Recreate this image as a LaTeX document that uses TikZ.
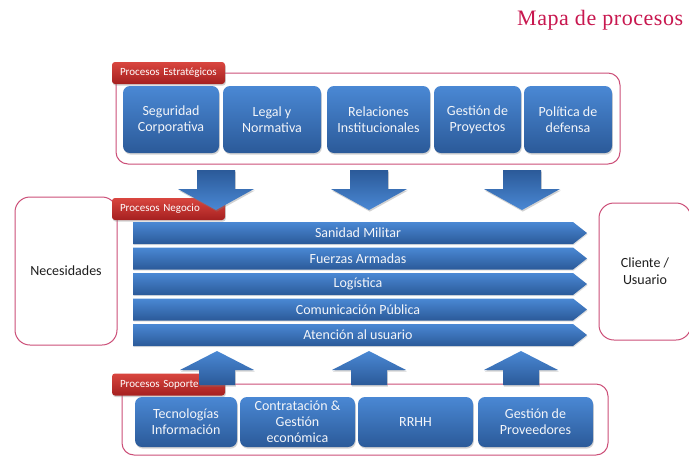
\documentclass[tikz,border=0pt]{standalone}
\usepackage{fontspec}
\setmainfont{Carlito}
\newfontfamily\titlefont[LetterSpace=2.5]{Liberation Serif}
\usetikzlibrary{shadows}
\definecolor{bluetop}{HTML}{4A88D4}
\definecolor{bluebot}{HTML}{2B5A99}
\definecolor{redtop}{HTML}{D9463F}
\definecolor{redbot}{HTML}{A52020}
\definecolor{pinkline}{HTML}{CC4F78}
\definecolor{titlered}{HTML}{C8174F}
\definecolor{txtwhite}{HTML}{F3F5F9}
\definecolor{txtdark}{HTML}{1E1E1E}
\tikzset{
  shad/.style={drop shadow={opacity=0.35,shadow xshift=0.8pt,shadow yshift=-1.6pt}},
  lightshad/.style={drop shadow={opacity=0.25,shadow xshift=0.6pt,shadow yshift=-1.2pt}},
  procbox/.style={shad, rounded corners=7pt, top color=bluetop, bottom color=bluebot,
    text=txtwhite, align=center, font=\fontsize{14}{16}\selectfont, inner sep=0pt},
  tabbox/.style={shad, rounded corners=3pt, top color=redtop, bottom color=redbot,
    text=white, font=\fontsize{11}{12}\selectfont, inner xsep=8pt, inner ysep=0pt,
    text width=97pt, align=left, minimum height=22pt},
  groupbox/.style={draw=pinkline, line width=1pt, rounded corners=12pt, fill=white},
  sidebox/.style={draw=pinkline, line width=1pt, rounded corners=15pt, fill=white,
    text=txtdark, align=center, font=\fontsize{14}{17}\selectfont},
  barshape/.style={lightshad, top color=bluetop, bottom color=bluebot},
  bartext/.style={text=txtwhite, font=\fontsize{14}{15}\selectfont, inner sep=0pt},
  downarrow/.style={shad, top color=bluebot, bottom color=bluetop},
  uparrow/.style={shad, top color=bluetop, bottom color=bluebot},
}
\begin{document}
\begin{tikzpicture}[x=1pt,y=-1pt]
\useasboundingbox[fill=white] (0,0) rectangle (689,456);

% title
\node[anchor=base west, inner sep=0pt, text=titlered, font=\titlefont\fontsize{22}{24}\selectfont] (title) at (517,25) {Mapa de procesos};

% group frames
\draw[groupbox] (116,73) rectangle (620,164);
\draw[groupbox] (122,384) rectangle (608,455);

% side boxes
\node[sidebox, minimum width=102pt, minimum height=148pt] (nec) at (66,271) {Necesidades};
\node[sidebox, minimum width=92pt, minimum height=137pt] (cli) at (645,271.5) {Cliente /\\Usuario};

% strategic
\node[tabbox] (tabE) at (168.5,73) {Procesos Estratégicos};
\node[procbox, minimum width=96pt, minimum height=67pt] (seg) at (171,119.5) {Seguridad\\Corporativa};
\node[procbox, minimum width=98pt, minimum height=67pt] (leg) at (272,119.5) {Legal y\\Normativa};
\node[procbox, minimum width=103pt, minimum height=67pt] (rel) at (378.5,119.5) {Relaciones\\Institucionales};
\node[procbox, minimum width=87pt, minimum height=67pt] (ges) at (477.5,119.5) {Gestión de\\Proyectos};
\node[procbox, minimum width=88pt, minimum height=67pt] (pol) at (568,119.5) {Política de\\defensa};

% business
\node[tabbox] (tabN) at (168.5,209) {Procesos Negocio};
\foreach \y/\t/\n in {222/Sanidad Militar/b1, 247.5/Fuerzas Armadas/b2, 273/Logística/b3, 298.5/Comunicación Pública/b4, 324/Atención al usuario/b5}{
  \path[barshape] (133,\y) -- (573,\y) -- (587,\y+11) -- (573,\y+22) -- (133,\y+22) -- cycle;
  \node[bartext] (\n) at (358,\y+11) {\t};
}

% support
\node[tabbox] (tabS) at (168.5,384.5) {Procesos Soporte};
\node[procbox, minimum width=102pt, minimum height=50pt] (tec) at (186,422) {Tecnologías\\Información};
\node[procbox, minimum width=115pt, minimum height=50pt] (con) at (297.5,422) {Contratación \&\\Gestión\\económica};
\node[procbox, minimum width=115pt, minimum height=50pt] (rrhh) at (415.5,422) {RRHH};
\node[procbox, minimum width=115pt, minimum height=50pt] (prov) at (535.5,422) {Gestión de\\Proveedores};

% down arrows
\foreach \c in {216,369,522}{
  \path[downarrow] (\c-19,170) -- (\c+19,170) -- (\c+19,189) -- (\c+38,189) -- (\c,210) -- (\c-38,189) -- (\c-19,189) -- cycle;
}
% up arrows
\foreach \c in {217,369,521}{
  \path[uparrow] (\c,351) -- (\c+37,370) -- (\c+18,370) -- (\c+18,385) -- (\c-18,385) -- (\c-18,370) -- (\c-37,370) -- cycle;
}
\end{tikzpicture}
\end{document}
